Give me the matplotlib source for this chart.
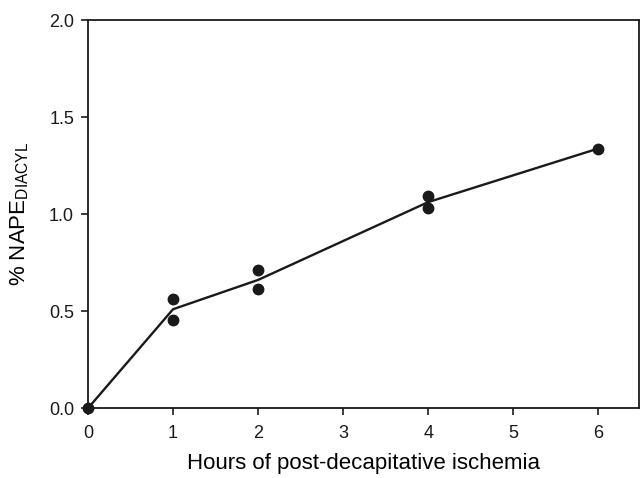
import numpy as np
import matplotlib
matplotlib.use("Agg")
import matplotlib.pyplot as plt

# individual measurements
hours = [0, 1, 1, 2, 2, 4, 4, 6]
nape = [0.0, 0.565, 0.455, 0.71, 0.612, 1.092, 1.031, 1.338]

# mean curve through the groups
mean_hours = [0, 1, 2, 4, 6]
mean_nape = [0.0, 0.51, 0.661, 1.062, 1.338]

plt.rcParams['font.family'] = ['Liberation Sans', 'DejaVu Sans']
plt.rcParams['mathtext.fontset'] = 'custom'
plt.rcParams['mathtext.rm'] = 'Liberation Sans'

fig = plt.figure(figsize=(6.4, 4.78), dpi=100)
ax = fig.add_axes([0.1375, 0.146, 0.861, 0.812])

ax.plot(mean_hours, mean_nape, color='#1a1a1a', lw=1.7, clip_on=False)
ax.plot(hours, nape, 'o', color='#1a1a1a', ms=7.5, clip_on=False)

ax.set_xlim(0, 6.48)
ax.set_ylim(0, 2.0)
ax.set_xticks(range(0, 7))
ax.set_yticks([0.0, 0.5, 1.0, 1.5, 2.0])
ax.set_yticklabels(['0.0', '0.5', '1.0', '1.5', '2.0'])

for s in ax.spines.values():
    s.set_linewidth(1.3)
    s.set_color('#1a1a1a')
ax.tick_params(direction='out', length=5, width=1.2, labelsize=13, colors='#1a1a1a')
ax.tick_params(axis='y', pad=5)
ax.tick_params(axis='x', pad=7)

ax.set_xlabel('Hours of post-decapitative ischemia', fontsize=16, labelpad=8)
ax.set_ylabel('% NAPE$_{\\mathregular{DIACYL}}$', fontsize=16, labelpad=13)

fig.savefig('out.png', dpi=100)
